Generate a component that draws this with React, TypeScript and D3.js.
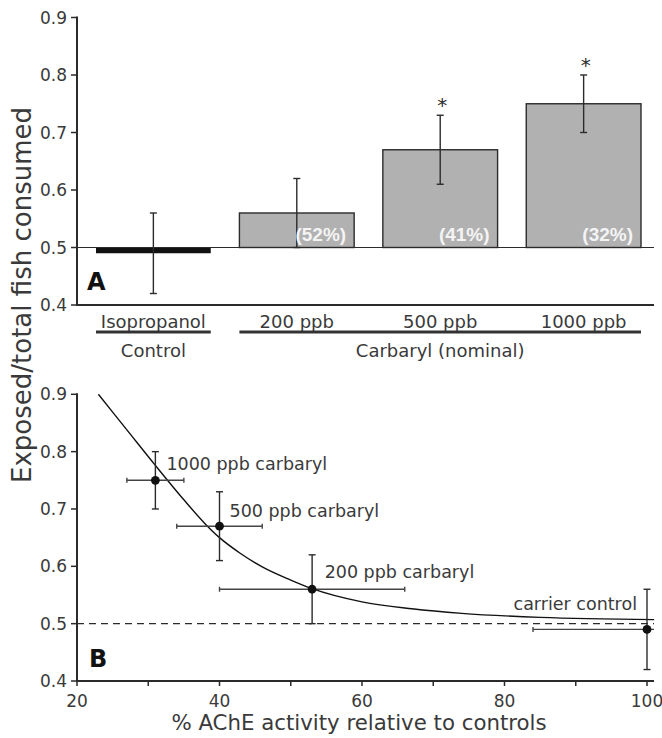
import * as d3 from "d3";

// panel A: bars
const barCategories = ["Isopropanol", "200 ppb", "500 ppb", "1000 ppb"];
const barMeans = [0.49, 0.56, 0.67, 0.75];
const barLow = [0.42, 0.5, 0.61, 0.7];
const barHigh = [0.56, 0.62, 0.73, 0.8];
const barPercents = ["", "(52%)", "(41%)", "(32%)"];
const barStars = [false, false, true, true];
const yTicks = [0.4, 0.5, 0.6, 0.7, 0.8, 0.9];

// panel B: AChE vs consumption
const doseLabels = ["1000 ppb carbaryl", "500 ppb carbaryl", "200 ppb carbaryl", "carrier control"];
const acheMean = [31, 40, 53, 100];
const acheErr = [4, 6, 13, 16];
const consumedMean = [0.75, 0.67, 0.56, 0.49];
const consumedLow = [0.7, 0.61, 0.5, 0.42];
const consumedHigh = [0.8, 0.73, 0.62, 0.56];
const curveX = [23, 27, 31, 35, 38, 40, 43, 46, 50, 53, 60, 67, 74, 85, 101];
const curveY = [0.9, 0.838, 0.776, 0.716, 0.674, 0.65, 0.622, 0.599, 0.576, 0.561, 0.538, 0.526, 0.518, 0.511, 0.507];
const xTicks = [20, 30, 40, 50, 60, 70, 80, 90, 100];
const xTickLabels = [20, 40, 60, 80, 100];

const FONT = "DejaVu Sans";
const INK = "#2b2b2b";
const TEXT = "#3a3a3a";

// label offsets (px) for panel B annotations, and their anchors
const labelDx = [11, 10, 12.5, -10];
const labelDy = [-10, -9.5, -11, -19];
const labelAnchor = ["start", "start", "start", "end"];

const App = () => {
  const width = 662;
  const height = 738;
  const axisLeft = 77;
  const axisRight = 654;

  const xBand = d3.scaleBand().domain(barCategories).range([96, 641]).paddingInner(0.2).paddingOuter(0);
  const yA = d3.scaleLinear().domain([0.4, 0.9]).range([305, 17.5]);

  const xB = d3.scaleLinear().domain([20, 100]).range([77, 647]);
  const yB = d3.scaleLinear().domain([0.4, 0.9]).range([681, 394.3]);
  const xMax = xB.invert(axisRight);

  const line = d3
    .line<number>()
    .x((d) => xB(d))
    .y((_, i) => yB(curveY[i]))
    .curve(d3.curveMonotoneX);

  const cap = 3.5;

  const bars = barCategories.map((c, i) => {
    const x = xBand(c)!;
    const bw = xBand.bandwidth();
    const cx = x + bw / 2;
    const top = yA(Math.max(barMeans[i], 0.5));
    const bot = yA(Math.min(barMeans[i], 0.5));
    const isControl = i === 0;
    return (
      <g key={c}>
        <rect
          x={x}
          y={top}
          width={bw}
          height={bot - top}
          fill={isControl ? "#111" : "#b1b1b1"}
          stroke={isControl ? "none" : INK}
          strokeWidth={1.4}
        />
        <line x1={cx} x2={cx} y1={yA(barLow[i])} y2={yA(barHigh[i])} stroke={INK} strokeWidth={1.4} />
        <line x1={cx - cap} x2={cx + cap} y1={yA(barLow[i])} y2={yA(barLow[i])} stroke={INK} strokeWidth={1.4} />
        <line x1={cx - cap} x2={cx + cap} y1={yA(barHigh[i])} y2={yA(barHigh[i])} stroke={INK} strokeWidth={1.4} />
        {barStars[i] && (
          <text x={cx + 2} y={yA(barHigh[i]) - 3} textAnchor="middle" fontFamily={FONT} fontSize={20} fill={INK}>
            *
          </text>
        )}
        {barPercents[i] && (
          <text
            x={x + bw - 8}
            y={yA(0.5) - 7}
            textAnchor="end"
            fontFamily="Liberation Sans"
            fontWeight="bold"
            fontSize={19}
            fill="#f4f4f4"
          >
            {barPercents[i]}
          </text>
        )}
        <text x={cx} y={328} textAnchor="middle" fontFamily={FONT} fontSize={18} fill={TEXT}>
          {c}
        </text>
      </g>
    );
  });

  const firstX = xBand(barCategories[0])!;
  const carbStart = xBand(barCategories[1])!;
  const carbEnd = xBand(barCategories[3])! + xBand.bandwidth();

  return (
    <svg
      width={width}
      height={height}
      style={{ position: "absolute", left: 0, top: 0, background: "#fff" }}
    >
      {/* ---------- panel A ---------- */}
      <line x1={axisLeft} x2={axisLeft} y1={yA(0.9) - 1} y2={yA(0.4)} stroke={INK} strokeWidth={2} />
      <line x1={axisLeft - 1} x2={axisRight} y1={yA(0.4)} y2={yA(0.4)} stroke={INK} strokeWidth={2} />
      {yTicks.map((t) => (
        <g key={`ya${t}`}>
          <line x1={axisLeft - 6} x2={axisLeft} y1={yA(t)} y2={yA(t)} stroke={INK} strokeWidth={1.5} />
          <text x={67} y={yA(t) + 6} textAnchor="end" fontFamily={FONT} fontSize={17} fill={TEXT}>
            {t.toFixed(1)}
          </text>
        </g>
      ))}
      {bars}
      <line x1={axisLeft} x2={axisRight} y1={yA(0.5)} y2={yA(0.5)} stroke={INK} strokeWidth={1.2} />
      <text x={87} y={290} fontFamily={FONT} fontWeight="bold" fontSize={24} fill="#111">
        A
      </text>
      <line x1={firstX} x2={firstX + xBand.bandwidth()} y1={332} y2={332} stroke="#333" strokeWidth={3} />
      <line x1={carbStart} x2={carbEnd} y1={332} y2={332} stroke="#333" strokeWidth={3} />
      <text x={firstX + xBand.bandwidth() / 2} y={357} textAnchor="middle" fontFamily={FONT} fontSize={18} fill={TEXT}>
        Control
      </text>
      <text x={(carbStart + carbEnd) / 2} y={357} textAnchor="middle" fontFamily={FONT} fontSize={18} fill={TEXT}>
        Carbaryl (nominal)
      </text>

      {/* ---------- panel B ---------- */}
      <line x1={axisLeft} x2={axisLeft} y1={yB(0.9) - 1} y2={yB(0.4)} stroke={INK} strokeWidth={2} />
      <line x1={axisLeft - 1} x2={axisRight} y1={yB(0.4)} y2={yB(0.4)} stroke={INK} strokeWidth={2} />
      {yTicks.map((t) => (
        <g key={`yb${t}`}>
          <line x1={axisLeft - 6} x2={axisLeft} y1={yB(t)} y2={yB(t)} stroke={INK} strokeWidth={1.5} />
          <text x={67} y={yB(t) + 6} textAnchor="end" fontFamily={FONT} fontSize={17} fill={TEXT}>
            {t.toFixed(1)}
          </text>
        </g>
      ))}
      {xTicks.map((t) => (
        <line key={`xt${t}`} x1={xB(t)} x2={xB(t)} y1={yB(0.4)} y2={yB(0.4) + 5} stroke={INK} strokeWidth={1.5} />
      ))}
      {xTickLabels.map((t) => (
        <text key={`xl${t}`} x={xB(t)} y={707} textAnchor="middle" fontFamily={FONT} fontSize={17} fill={TEXT}>
          {t}
        </text>
      ))}
      <line
        x1={axisLeft}
        x2={axisRight}
        y1={yB(0.5)}
        y2={yB(0.5)}
        stroke={INK}
        strokeWidth={1.3}
        strokeDasharray="7,5"
      />
      <path d={line(curveX) || ""} fill="none" stroke="#111" strokeWidth={1.4} />
      {acheMean.map((m, i) => {
        const cx = xB(m);
        const cy = yB(consumedMean[i]);
        const xl = xB(m - acheErr[i]);
        const xr = xB(Math.min(m + acheErr[i], xMax));
        const clipped = m + acheErr[i] > xMax;
        return (
          <g key={doseLabels[i]}>
            <line x1={xl} x2={xr} y1={cy} y2={cy} stroke="#444" strokeWidth={1.4} />
            <line x1={xl} x2={xl} y1={cy - cap + 1} y2={cy + cap - 1} stroke="#444" strokeWidth={1.4} />
            {!clipped && <line x1={xr} x2={xr} y1={cy - cap + 1} y2={cy + cap - 1} stroke="#444" strokeWidth={1.4} />}
            <line x1={cx} x2={cx} y1={yB(consumedLow[i])} y2={yB(consumedHigh[i])} stroke={INK} strokeWidth={1.4} />
            <line x1={cx - cap} x2={cx + cap} y1={yB(consumedLow[i])} y2={yB(consumedLow[i])} stroke={INK} strokeWidth={1.4} />
            <line x1={cx - cap} x2={cx + cap} y1={yB(consumedHigh[i])} y2={yB(consumedHigh[i])} stroke={INK} strokeWidth={1.4} />
            <circle cx={cx} cy={cy} r={4.4} fill="#111" />
            <text
              x={cx + labelDx[i]}
              y={cy + labelDy[i]}
              textAnchor={labelAnchor[i]}
              fontFamily={FONT}
              fontSize={17.5}
              fill={TEXT}
            >
              {doseLabels[i]}
            </text>
          </g>
        );
      })}
      <text x={89} y={667} fontFamily={FONT} fontWeight="bold" fontSize={24} fill="#111">
        B
      </text>
      <text x={359} y={730} textAnchor="middle" fontFamily={FONT} fontSize={21.3} fill={TEXT}>
        % AChE activity relative to controls
      </text>
      <text
        transform="translate(31,295) rotate(-90)"
        textAnchor="middle"
        fontFamily={FONT}
        fontSize={26}
        fill={TEXT}
      >
        Exposed/total fish consumed
      </text>
    </svg>
  );
};

export default App;
